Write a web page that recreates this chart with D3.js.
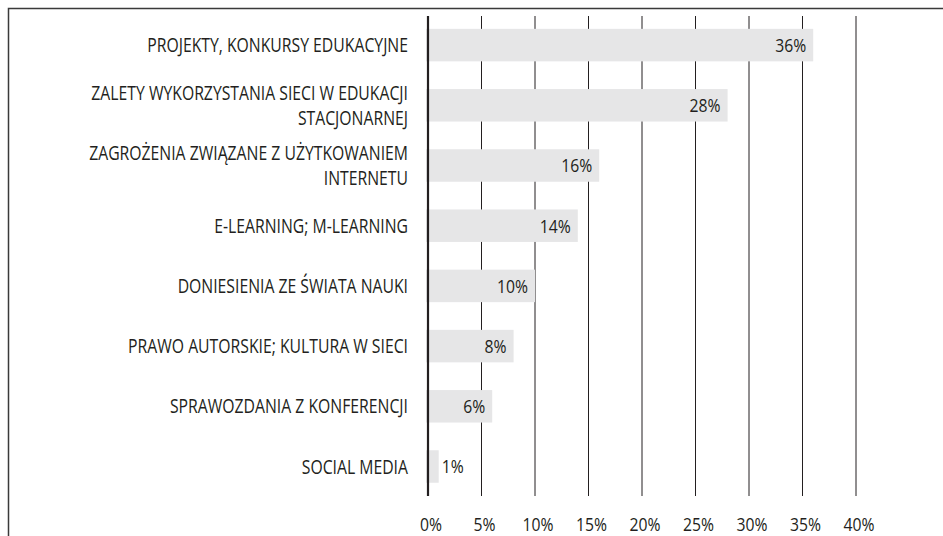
<!DOCTYPE html>
<html><head><meta charset="utf-8">
<script src="https://cdn.jsdelivr.net/npm/d3@7"></script>
<style>
html,body{margin:0;padding:0;background:#fff;}
svg text{font-family:"Open Sans",sans-serif;fill:#231f20;}
</style></head>
<body><svg id="c" width="943" height="536"></svg>
<script>
const categories = [
  ["PROJEKTY, KONKURSY EDUKACYJNE"],
  ["ZALETY WYKORZYSTANIA SIECI W EDUKACJI", "STACJONARNEJ"],
  ["ZAGROŻENIA ZWIĄZANE Z UŻYTKOWANIEM", "INTERNETU"],
  ["E-LEARNING; M-LEARNING"],
  ["DONIESIENIA ZE ŚWIATA NAUKI"],
  ["PRAWO AUTORSKIE; KULTURA W SIECI"],
  ["SPRAWOZDANIA Z KONFERENCJI"],
  ["SOCIAL MEDIA"]
];
const values = [36, 28, 16, 14, 10, 8, 6, 1];
const tickValues = [0, 5, 10, 15, 20, 25, 30, 35, 40];

const svg = d3.select("#c");
const keys = categories.map(d => d.join(" "));
const x = d3.scaleLinear().domain([0, 40]).range([428, 856]);
const y = d3.scaleBand().domain(keys).range([15, 496.6]).paddingInner(0.46).paddingOuter(0.23);

// horizontal compression to mimic the condensed face of the original
const catSize = 19.5, numSize = 19;
const probe = svg.append("text").attr("font-size", catSize).text(categories[0][0]);
const kCat = 261 / probe.node().getComputedTextLength();
probe.attr("font-size", numSize).text("36%");
const kNum = 31 / probe.node().getComputedTextLength();
probe.remove();

// frame
svg.append("path").attr("d", "M8.5,536 V8.5 H943").attr("fill", "none").attr("stroke", "#3a3a3a").attr("stroke-width", 1.5);

// gridlines
svg.append("g").selectAll("line").data(tickValues.slice(1)).join("line")
  .attr("x1", d => x(d)).attr("x2", d => x(d)).attr("y1", 16).attr("y2", 496)
  .attr("stroke", "#231f20").attr("stroke-width", 1);

// bars
svg.append("g").selectAll("rect").data(values).join("rect")
  .attr("x", x(0) - 2).attr("y", (d, i) => y(keys[i]))
  .attr("width", d => x(d) - x(0) + 2).attr("height", y.bandwidth())
  .attr("fill", "#e6e6e7");

// axis line
svg.append("line").attr("x1", x(0)).attr("x2", x(0)).attr("y1", 16).attr("y2", 496)
  .attr("stroke", "#231f20").attr("stroke-width", 2.2);

// value labels
svg.append("g").selectAll("text").data(values).join("text")
  .attr("font-size", numSize)
  .attr("dy", "0.36em")
  .text(d => d + "%")
  .each(function(d, i) {
    const w = this.getComputedTextLength() * kNum;
    const barW = x(d) - x(0);
    const cy = y(keys[i]) + y.bandwidth() / 2;
    const t = d3.select(this);
    if (barW > w + 10) t.attr("text-anchor", "end").attr("transform", `translate(${x(d) - 7},${cy}) scale(${kNum},1)`);
    else t.attr("text-anchor", "start").attr("transform", `translate(${x(d) + 3},${cy}) scale(${kNum},1)`);
  });

// category labels
const lineH = 25.5;
svg.append("g").selectAll("text").data(categories).join("text")
  .attr("font-size", catSize)
  .attr("text-anchor", "end")
  .attr("transform", (d, i) => `translate(408,${y(keys[i]) + y.bandwidth() / 2 - (d.length - 1) * lineH / 2}) scale(${kCat},1)`)
  .each(function(d) {
    d3.select(this).selectAll("tspan").data(d).join("tspan")
      .attr("x", 0).attr("dy", (t, j) => j === 0 ? "0.36em" : lineH)
      .text(t => t);
  });

// x tick labels
svg.append("g").selectAll("text").data(tickValues).join("text")
  .attr("font-size", numSize)
  .attr("text-anchor", "middle")
  .attr("transform", d => `translate(${x(d) + 3},531) scale(${kNum},1)`)
  .text(d => d + "%");
</script></body></html>
